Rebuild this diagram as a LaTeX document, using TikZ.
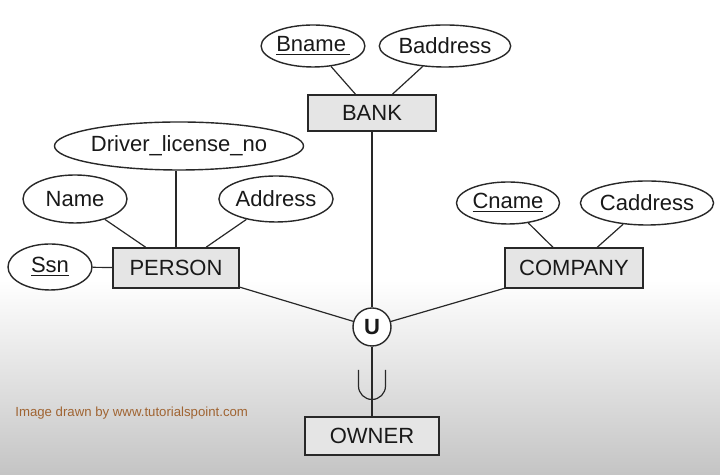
\documentclass[tikz,border=0pt]{standalone}
\usepackage{fontspec}
\setmainfont{Liberation Sans}
\usetikzlibrary{shapes.geometric}

\definecolor{inkgray}{RGB}{40,40,40}
\definecolor{credit}{RGB}{160,100,50}

\begin{document}
\begin{tikzpicture}[x=0.5pt,y=0.5pt,
  entity/.style={draw=inkgray,line width=0.8pt,fill=gray!20,minimum height=19pt,inner sep=0pt,font=\fontsize{11}{13}\selectfont,text=black!90},
  attrib/.style={ellipse,draw=inkgray,line width=0.7pt,fill=white,inner sep=0pt,font=\fontsize{11}{13}\selectfont,text=black!90},
  link/.style={draw=inkgray,line width=0.6pt}]

\fill[white] (0,0) rectangle (720,475);
\shade[top color=white,bottom color=gray!46] (0,0) rectangle (720,195);

\node (bank) at (372,362) [entity,minimum width=64pt,minimum height=18pt] {BANK};
\node (person) at (176,207) [entity,minimum width=63pt,minimum height=20pt] {PERSON};
\node (company) at (574,207) [entity,minimum width=69pt,minimum height=20pt] {COMPANY};
\node (owner) at (372,39) [entity,minimum width=67pt] {OWNER};

\node (bname) at (313,429) [attrib,minimum width=50pt,minimum height=21pt] {\underline{Bname\,}};
\node (baddress) at (445,429) [attrib,minimum width=61.5pt,minimum height=21pt] {Baddress};
\node (driver) at (179,329) [attrib,minimum width=113.5pt,minimum height=24pt] {Driver\_license\_no};
\node (name) at (75,276) [attrib,minimum width=52pt,minimum height=24pt] {Name};
\node (address) at (276,276) [attrib,minimum width=53pt,minimum height=23pt] {Address};
\node (ssn) at (50,208) [attrib,minimum width=42pt,minimum height=23pt] {\underline{Ssn}};
\node (cname) at (508,272) [attrib,minimum width=51.5pt,minimum height=21pt] {\underline{Cname}};
\node (caddress) at (647,272) [attrib,minimum width=62.5pt,minimum height=22pt] {Caddress};

\node (union) at (372,148) [circle,draw=inkgray,line width=0.7pt,fill=white,minimum size=19pt,inner sep=0pt,font=\fontsize{11}{13}\selectfont\bfseries,text=black!90] {U};

\draw[link] (bname) -- (bank);
\draw[link] (baddress) -- (bank);
\draw[link] (person.north) -- (person.north |- driver.south);
\draw[link] (name) -- (person);
\draw[link] (address) -- (person);
\draw[link] (ssn) -- (person);
\draw[link] (cname) -- (company);
\draw[link] (caddress) -- (company);

\draw[link] (bank) -- (union);
\draw[link] (person) -- (union);
\draw[link] (company) -- (union);
\draw[link] (union) -- (owner);

\draw[link] (358.5,105) -- (358.5,89) arc[start angle=180,end angle=360,radius=6.75pt] -- (385.5,105);

\node at (15,62) [anchor=west,inner sep=0pt,font=\fontsize{6.6}{8}\selectfont,text=credit] {Image drawn by www.tutorialspoint.com};

\end{tikzpicture}
\end{document}
